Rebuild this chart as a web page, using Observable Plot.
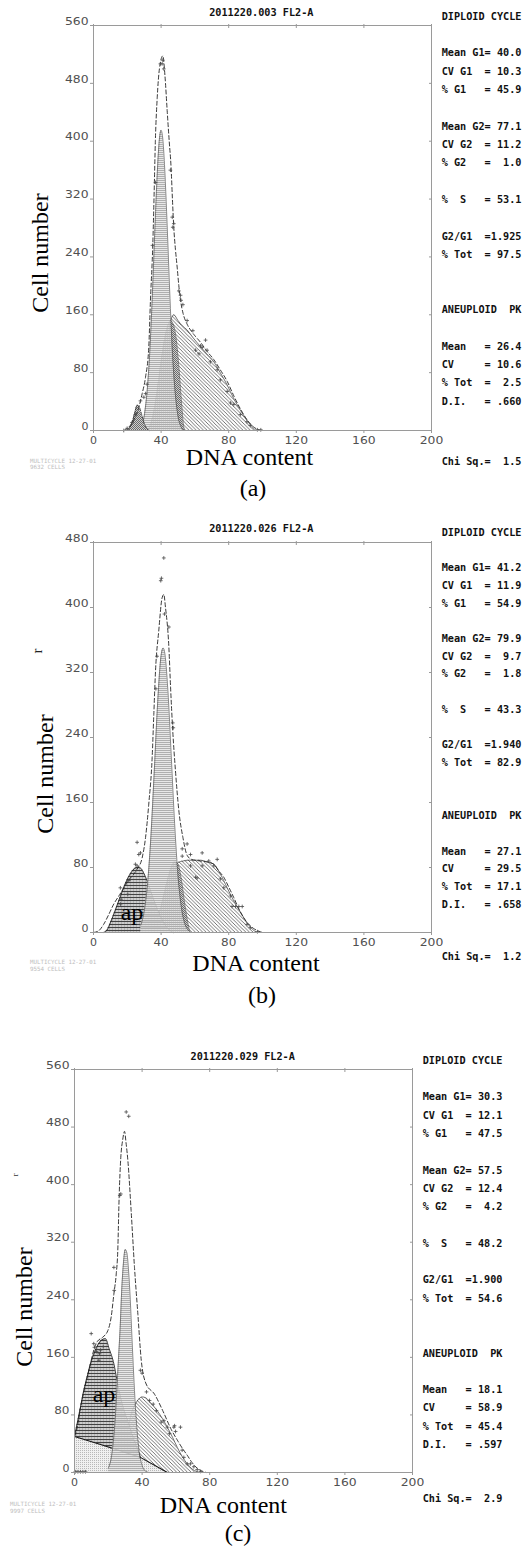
<!DOCTYPE html>
<html><head><meta charset="utf-8">
<script src="https://cdn.jsdelivr.net/npm/d3@7"></script>
<script src="https://cdn.jsdelivr.net/npm/@observablehq/plot@0.6"></script>
<style>
body{margin:0;background:#fff;}
#page{position:relative;width:523px;height:1546px;overflow:hidden;background:#fff;}
.lab{position:absolute;width:0;height:0;}
.lab>span{position:absolute;left:0;top:0;white-space:pre;line-height:1;}
.mono{font-family:"DejaVu Sans Mono",monospace;font-weight:bold;font-size:10.2px;color:#111;}
.serif{font-family:"Liberation Serif","Times New Roman",serif;font-size:24px;color:#000;}
.stray{font-family:"Liberation Serif","Times New Roman",serif;font-size:15px;color:#222;}
.stray2{font-family:"Liberation Serif","Times New Roman",serif;font-size:9px;color:#333;}
.foot{font-family:"DejaVu Sans Mono",monospace;font-size:5.8px;color:#bdbdbd;}
pre.stats{position:absolute;margin:0;font-family:"DejaVu Sans Mono",monospace;font-weight:bold;font-size:10.2px;color:#111;white-space:pre;}
</style></head><body>
<svg width="0" height="0" style="position:absolute;left:0;top:0">
<defs>
<pattern id="pS" width="3.6" height="3.6" patternUnits="userSpaceOnUse">
<rect width="3.6" height="3.6" fill="#fff"/>
<path d="M-1,-1L4.6,4.6M-1,2.6L1,4.6M2.6,-1L4.6,1" stroke="#505050" stroke-width="0.8"/>
</pattern>
<pattern id="pG1" width="2" height="2" patternUnits="userSpaceOnUse">
<rect width="2" height="2" fill="#e4e4e4" fill-opacity="0.85"/>
<rect width="2" height="0.8" fill="#a0a0a0"/>
</pattern>
<pattern id="pSt" width="2" height="2" patternUnits="userSpaceOnUse">
<rect width="2" height="2" fill="#cfcfcf"/>
<rect x="0" y="0" width="1" height="1" fill="#6a6a6a"/>
<rect x="1" y="1" width="1" height="1" fill="#6a6a6a"/>
</pattern>
<pattern id="pAp" width="3" height="3" patternUnits="userSpaceOnUse">
<rect width="3" height="3" fill="#cdcdcd"/>
<rect x="1" y="1.5" width="1" height="1" fill="#999"/>
<rect y="0" width="3" height="0.9" fill="#333"/>
</pattern>
<pattern id="pDeb" width="2" height="2" patternUnits="userSpaceOnUse">
<rect width="2" height="2" fill="#f0f0f0"/>
<rect x="0" y="0" width="1" height="1" fill="#b8b8b8"/>
</pattern>
</defs></svg>
<div id="page"></div>
<script>
// ---------- shared axis values ----------
const xTicks = [0, 40, 80, 120, 160, 200];
const yTicksA = [0, 80, 160, 240, 320, 400, 480, 560];
const yTicksB = [0, 80, 160, 240, 320, 400, 480];
const yTicksC = [0, 80, 160, 240, 320, 400, 480, 560];

// ---------- panel (a) ----------
const titleA = "2011220.003 FL2-A";
const aFit = [[18,0],[21,5],[23.8,14],[26.8,32],[28.8,51],[30.8,74],[32.7,115],[33.7,180],[35.1,258],[35.9,330],[36.6,400],[37.7,460],[39,500],[41,518],[42.3,490],[43.6,442],[44.8,400],[45.9,364],[46.7,320],[47.5,281],[48.5,250],[49.5,226],[50.5,200],[51.5,180],[53,162],[55.4,147],[58,137],[60,131],[63.3,122],[67,110],[71.2,98],[75,84],[79.1,68],[83,48],[86.9,30],[90.8,15],[94.7,5],[98.6,0]];
const aG1 = [[28,4],[30,20],[32,62],[33,96],[34,142],[35,197],[36,258],[37,317],[38,368],[39,403],[40,415],[41,403],[42,368],[43,317],[44,258],[45,197],[46,142],[47,96],[48,62],[50,20],[52,4],[53,0]];
const aStip = [[32,0],[34,10],[36,30],[38,60],[40,95],[42,125],[44,145],[45.5,152],[47,148],[48.5,134],[50.5,88],[52,41],[53.4,5],[54,0]];
const aS = [[36,0],[40,40],[43,110],[45,145],[46.6,158],[47.5,160],[50,152],[52.5,145],[55.4,139],[59,128],[63.3,116],[67,106],[71.2,95],[75,80],[79.1,63],[83,44],[86.9,28],[90.8,14],[94.7,3],[96,0]];
const aAp = [[20,0],[21.5,4],[23,12],[24.5,25],[25.8,35],[27,33],[28.5,22],[30,10],[31.5,3],[33,0]];
const aPts = [[17.9,0],[19.9,3],[22.8,11],[24.8,22],[27.8,41],[29.8,46],[30.8,51],[31.7,64],[34.9,256],[36.7,343],[39.6,507],[40.6,507],[41,512],[41.6,500],[45.5,360],[46.6,295],[46.9,281],[47.5,286],[50.5,193],[51.5,187],[51.8,180],[52.9,174],[55.4,152],[58.8,138],[60.4,111],[62.4,106],[63.3,117],[64.3,115],[66.3,125],[67.2,111],[69.2,95],[73.2,84],[75.1,70],[79.1,54],[81.1,38],[83,36],[86.9,22],[90.8,12],[92.8,7],[97,1],[99,1]];
const statsA = ["DIPLOID CYCLE","","Mean G1= 40.0","CV G1  = 10.3","% G1   = 45.9","","Mean G2= 77.1","CV G2  = 11.2","% G2   =  1.0","","%  S   = 53.1","","G2/G1  =1.925","% Tot  = 97.5","","","ANEUPLOID  PK","","Mean   = 26.4","CV     = 10.6","% Tot  =  2.5","D.I.   = .660"];
const chiA = "Chi Sq.=  1.5";
const footA = ["MULTICYCLE 12-27-01", "9632 CELLS"];

// ---------- panel (b) ----------
const titleB = "2011220.026 FL2-A";
const bFit = [[0,0],[3,2],[6,10],[9,22],[12,35],[15,45],[18,55],[21,65],[23.9,72],[25.8,78],[28.8,92],[30.8,117],[32.7,158],[34.7,215],[35.7,269],[36.7,322],[38.6,371],[40.6,412],[41.6,416],[42.6,400],[44.6,351],[45.6,302],[46.9,248],[48.5,199],[50.5,150],[52.9,117],[55.4,95],[58,90],[63.3,88],[67,87],[71.2,84],[74,76],[77.1,68],[80,56],[83,43],[86,29],[88.9,18],[91.5,11],[94.7,5],[98.6,1],[100,0]];
const bG1 = [[28,9],[30,26],[32,60],[34,119],[36,200],[38,284],[40,341],[41.2,350],[42,346],[44,298],[46,217],[48,134],[50,70],[52,31],[54,11],[56,3],[58,0]];
const bStip = [[34,0],[37,12],[40,32],[43,58],[46,80],[48,87],[50,84],[52,65],[54,35],[56,10],[57,0]];
const bS = [[37,0],[40,15],[43,40],[46,65],[48,80],[50,86],[53,88],[56,89],[60,89],[63.3,89],[67,87],[71.2,84],[75.1,72],[79.1,55],[83,39],[87,25],[90.8,12],[94,4],[96.7,0]];
const bAp = [[6,0],[8,3],[10,12],[13,28],[16,45],[19,61],[22,73],[24.5,79],[26.2,80],[28,79],[30,72],[32,62],[35,44],[38,28],[41,14],[44,5],[47,0]];
const bPts = [[15.9,55],[16,35],[16.3,41],[20.3,47],[20.9,64],[24.8,84],[25.8,82],[25.8,111],[26.8,96],[27.8,98],[36.9,300],[37.6,340],[39.8,433],[40.2,436],[41.6,461],[42,392],[44.6,376],[46.9,258],[47.2,252],[52.5,94],[52.5,103],[55.4,109],[57.4,96],[57.4,82],[60.4,68],[61.3,67],[64.3,98],[64.3,82],[68.2,88],[71.2,82],[73.2,90],[75.1,66],[77.1,55],[81.1,45],[82,32],[84,32],[86,32],[88,32],[90.8,10],[92.8,6],[97,1]];
const statsB = ["DIPLOID CYCLE","","Mean G1= 41.2","CV G1  = 11.9","% G1   = 54.9","","Mean G2= 79.9","CV G2  =  9.7","% G2   =  1.8","","%  S   = 43.3","","G2/G1  =1.940","% Tot  = 82.9","","","ANEUPLOID  PK","","Mean   = 27.1","CV     = 29.5","% Tot  = 17.1","D.I.   = .658"];
const chiB = "Chi Sq.=  1.2";
const footB = ["MULTICYCLE 12-27-01", "9554 CELLS"];

// ---------- panel (c) ----------
const titleC = "2011220.029 FL2-A";
const cFit = [[0,50],[1.2,58],[3.6,91],[5.5,112],[7.5,132],[9.5,152],[11.4,170],[13.5,182],[16.7,188],[19.7,197],[21.7,216],[23.3,248],[24.7,276],[25.6,308],[26.4,382],[27.4,438],[28.5,462],[29.6,474],[30.5,458],[31.6,433],[33.5,364],[35.5,285],[37.5,220],[39.5,156],[42.4,123],[47.3,109],[52.2,86],[57.2,60],[61.1,44],[64,33],[66.7,24],[69.5,14],[72.6,6],[76.5,1],[78,0]];
const cG1 = [[20,6],[22,24],[24,71],[26,157],[27,200],[28,256],[29,292],[30,310],[31,305],[32,280],[33,240],[34,187],[36,93],[38,34],[40,10],[42,2],[44,0]];
const cS = [[28,0],[30.2,35],[33.1,77],[36,95],[38,102],[40,105],[42,104],[45,97],[48.9,86],[52,75],[54.9,63],[58,49],[60.8,35],[63.8,22],[66.7,12],[69.5,5],[72.6,1],[74,0]];
const cAp = [[0,50],[1.6,68],[3.5,90],[5.5,114],[7.5,133],[9.5,151],[12,168],[14,178],[16,184],[18.3,186],[20.5,172],[23.3,151],[25,130],[27.2,105],[29.5,85],[32.1,68],[34,53],[36.1,40],[39,21]];
const cDebris = [[0,50],[15.4,39],[39,21],[55,0]];
const cPts = [[0.5,1],[2,1],[3.5,1],[5,1],[6.5,1],[9.9,193],[11.4,179],[11.8,174],[13,168],[14.4,156],[14.8,165],[15.4,170],[17,175],[23.3,285],[23.5,253],[26.8,385],[27.4,387],[30.6,501],[32.1,495],[39,142],[40,138],[42.6,112],[44.4,100],[46.6,95],[48.5,86],[51.3,70],[52.9,72],[54.9,63],[56.2,54],[58.8,63],[59.2,65],[59.8,57],[62.7,63],[63.7,31],[64.7,21],[66.7,12],[68.6,12],[70.6,8],[72.6,4],[74.6,1.5]];
const statsC = ["DIPLOID CYCLE","","Mean G1= 30.3","CV G1  = 12.1","% G1   = 47.5","","Mean G2= 57.5","CV G2  = 12.4","% G2   =  4.2","","%  S   = 48.2","","G2/G1  =1.900","% Tot  = 54.6","","","ANEUPLOID  PK","","Mean   = 18.1","CV     = 58.9","% Tot  = 45.4","D.I.   = .597"];
const chiC = "Chi Sq.=  2.9";
const footC = ["MULTICYCLE 12-27-01", "9997 CELLS"];

const yLabel = "Cell number", xLabel = "DNA content", apLabel = "ap";

// ---------- drawing ----------
const page = document.getElementById("page");
const X = d => d[0], Y = d => d[1];

function layer(kind, data) {
  const fills = {S: "url(#pS)", G1: "url(#pG1)", St: "url(#pSt)", Ap: "url(#pAp)", ApS: "url(#pSt)", Deb: "url(#pDeb)"};
  const strokes = {S: "#3a3a3a", G1: "#555", St: "#444", Ap: "#222", ApS: "#222", Deb: "#111"};
  const widths = {S: 0.7, G1: 0.7, St: 0.6, Ap: 0.9, ApS: 0.8, Deb: 1.1};
  const dash = kind === "ApS" ? "3,1.5" : null;
  const curve = kind === "Deb" ? "linear" : "monotone-x";
  return [
    Plot.areaY(data, {x: X, y: Y, fill: fills[kind], curve}),
    Plot.line(data, {x: X, y: Y, stroke: strokes[kind], strokeWidth: widths[kind], strokeDasharray: dash, curve})
  ];
}

function makePanel(p) {
  const marks = [];
  for (const [kind, data] of p.layers) marks.push(...layer(kind, data));
  marks.push(
    Plot.line(p.fit, {x: X, y: Y, stroke: "#222", strokeWidth: 0.9, strokeDasharray: "4,2.5", curve: "monotone-x"}),
    Plot.dot(p.pts, {x: X, y: Y, symbol: "plus", r: 1.3, stroke: "#4a4a4a", strokeWidth: 0.8}),
    Plot.frame({stroke: "#9a9a9a"}),
    Plot.axisY(p.yTicks, {tickSize: 3, stroke: "#999", fill: "none", label: null}),
    Plot.axisY(p.yTicks, {tickSize: 3, tickPadding: 2, stroke: "none", fill: "#505050", dy: -4, label: null}),
    Plot.axisY(p.yTicks, {anchor: "right", tickSize: 3, stroke: "#999", fill: "none", dx: -3, label: null}),
    Plot.axisX(xTicks, {tickSize: 3, tickPadding: 3, stroke: "#999", fill: "#505050", label: null}),
    Plot.axisX(xTicks, {anchor: "top", tickSize: 4, stroke: "#999", fill: "none", dy: 2, label: null})
  );
  const svg = Plot.plot({
    width: 523, height: p.height,
    marginLeft: p.mL, marginRight: p.mR, marginTop: p.mT, marginBottom: p.mB,
    x: {domain: [0, 200]}, y: {domain: [0, p.ymax]},
    style: {fontFamily: "DejaVu Sans", fontSize: "10px", background: "none", overflow: "visible"},
    marks
  });
  svg.style.position = "absolute";
  svg.style.left = "0px";
  svg.style.top = p.top + "px";
  page.appendChild(svg);
  svg.querySelectorAll('g[aria-label$="tick label"] text').forEach(t => {
    const n = t.textContent.length;
    if (n > 0) { t.setAttribute("textLength", n * 8.3 - 1.3); t.setAttribute("lengthAdjust", "spacingAndGlyphs"); }
  });
}

function label(text, cls, cx, cy, rot) {
  const d = document.createElement("div");
  d.className = "lab";
  d.style.left = cx + "px"; d.style.top = cy + "px";
  const s = document.createElement("span");
  s.className = cls; s.textContent = text;
  s.style.transform = "translate(-50%,-50%)" + (rot ? ` rotate(${rot}deg)` : "");
  d.appendChild(s); page.appendChild(d);
}
function leftText(text, cls, x, cy) {
  const d = document.createElement("div");
  d.className = "lab"; d.style.left = x + "px"; d.style.top = cy + "px";
  const s = document.createElement("span");
  s.className = cls; s.textContent = text; s.style.transform = "translateY(-50%)";
  d.appendChild(s); page.appendChild(d);
}
function stats(lines, x, y0, lh) {
  const pre = document.createElement("pre");
  pre.className = "stats";
  pre.style.left = x + "px"; pre.style.top = (y0 - lh / 2) + "px"; pre.style.lineHeight = lh + "px";
  pre.textContent = lines.join("\n");
  page.appendChild(pre);
}

// (a)
makePanel({top: 0, height: 450, mL: 93, mR: 92, mT: 25, mB: 20, ymax: 560, yTicks: yTicksA,
  layers: [["S", aS], ["St", aStip], ["G1", aG1], ["ApS", aAp]], fit: aFit, pts: aPts});
label(titleA, "mono", 261.3, 13.3);
stats(statsA, 441.7, 16.8, 18.33);
leftText(chiA, "mono", 441.7, 462);
label(yLabel, "serif", 40, 252.5, -90);
label(xLabel, "serif", 249.5, 457);
label("(a)", "serif", 253, 488);
leftText(footA[0], "foot", 30, 461.7); leftText(footA[1], "foot", 30, 468.3);

// (b)
makePanel({top: 510, height: 442, mL: 93, mR: 92, mT: 32, mB: 20, ymax: 480, yTicks: yTicksB,
  layers: [["S", bS], ["St", bStip], ["Ap", bAp], ["G1", bG1]], fit: bFit, pts: bPts});
label(titleB, "mono", 261.3, 529.3);
stats(statsB, 441.7, 532.7, 17.7);
leftText(chiB, "mono", 441.7, 956.7);
label(yLabel, "serif", 45, 774, -90);
label("r", "stray", 37, 651, -90);
label(xLabel, "serif", 256, 963);
label("(b)", "serif", 262, 995);
label(apLabel, "serif", 132, 912);
leftText(footB[0], "foot", 30, 962.7); leftText(footB[1], "foot", 30, 970);

// (c)
makePanel({top: 1040, height: 452, mL: 74, mR: 111, mT: 29, mB: 20, ymax: 560, yTicks: yTicksC,
  layers: [["S", cS], ["Ap", cAp], ["Deb", cDebris], ["G1", cG1]], fit: cFit, pts: cPts});
label(titleC, "mono", 242.7, 1056.7);
stats(statsC, 422.7, 1061, 18.3);
leftText(chiC, "mono", 422.7, 1499.3);
label(yLabel, "serif", 24, 1306.7, -90);
label("r", "stray2", 15, 1175, -90);
label(xLabel, "serif", 223.3, 1505);
label("(c)", "serif", 238, 1532.5);
label(apLabel, "serif", 104, 1393.6);
leftText(footC[0], "foot", 10, 1505); leftText(footC[1], "foot", 10, 1512);
</script>
</body></html>
